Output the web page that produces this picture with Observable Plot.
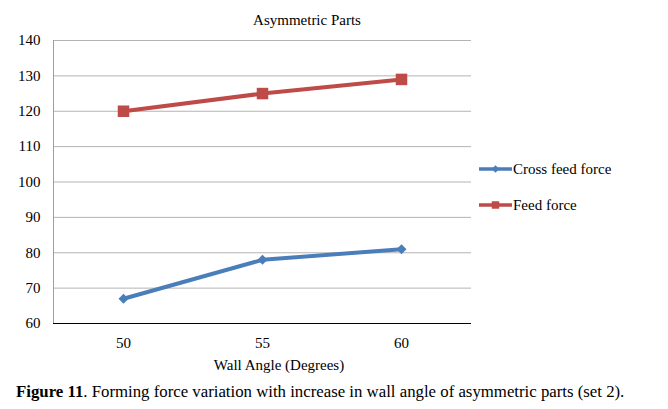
<!DOCTYPE html>
<html>
<head>
<meta charset="utf-8">
<script src="https://cdn.jsdelivr.net/npm/d3@7"></script>
<script src="https://cdn.jsdelivr.net/npm/@observablehq/plot@0.6"></script>
<style>
  body { margin: 0; background: #fff; }
  #wrap { position: relative; width: 668px; height: 409px; font-family: "Liberation Serif", "Times New Roman", serif; color: #000; }
  #chart { position: absolute; left: 0; top: 0; }
  #chart svg, #chart svg text { font-family: "Liberation Serif", "Times New Roman", serif !important; }
  .abs { position: absolute; white-space: nowrap; line-height: 18px; }
  #title { left: 307px; top: 11px; transform: translateX(-50%); font-size: 15px; }
  #xlabel { left: 279px; top: 356px; transform: translateX(-50%); font-size: 15px; }
  #caption { left: 16px; top: 383px; font-size: 16.8px; }
  .leg { left: 479px; font-size: 15px; display: flex; align-items: center; }
  .leg svg { display: block; margin-right: 1px; }
</style>
</head>
<body>
<div id="wrap">
  <div id="chart"></div>
  <div id="title" class="abs">Asymmetric Parts</div>
  <div id="xlabel" class="abs">Wall Angle (Degrees)</div>
  <div id="legend"></div>
  <div id="caption" class="abs"><b>Figure 11</b>. Forming force variation with increase in wall angle of asymmetric parts (set 2).</div>
</div>
<script>
const angles = [50, 55, 60];
const crossFeed = [67, 78, 81];
const feed = [120, 125, 129];
const yTicks = [60, 70, 80, 90, 100, 110, 120, 130, 140];
const seriesNames = ["Cross feed force", "Feed force"];
const seriesColors = ["#4a7ebb", "#be4b48"];
const seriesSymbols = ["diamond2", "square"];

const seriesValues = [crossFeed, feed];
const rows = seriesNames.map((name, s) => angles.map((a, i) => ({angle: a, value: seriesValues[s][i], series: name}))).flat();

const marks = [
  Plot.gridY(yTicks, {stroke: "#b4b4b4", strokeOpacity: 1}),
  Plot.axisY({ticks: yTicks, tickSize: 0, tickPadding: 13, fontSize: 15}),
  Plot.axisX({tickSize: 0, tickPadding: 14, fontSize: 15}),
  Plot.frame({anchor: "left", stroke: "#a0a0a0"}),
  Plot.ruleY([60], {stroke: "#000"})
];
seriesNames.forEach((name, s) => {
  const d = rows.filter(r => r.series === name);
  marks.push(Plot.line(d, {x: "angle", y: "value", stroke: seriesColors[s], strokeWidth: 4}));
  marks.push(Plot.dot(d, {x: "angle", y: "value", symbol: seriesSymbols[s], fill: seriesColors[s], stroke: "none", r: s === 0 ? 4.5 : 6.5}));
});

const chart = Plot.plot({
  width: 668,
  height: 378,
  marginLeft: 53,
  marginRight: 197,
  marginTop: 40,
  marginBottom: 55,
  style: {fontFamily: "Liberation Serif", fontSize: "15px", color: "#000", background: "transparent"},
  x: {type: "point", domain: angles, padding: 0.5, label: null},
  y: {domain: [60, 140], label: null},
  marks
});
document.getElementById("chart").appendChild(chart);

// Legend
const legend = document.getElementById("legend");
const legTops = [169, 205];
seriesNames.forEach((name, s) => {
  const div = document.createElement("div");
  div.className = "abs leg";
  div.style.top = (legTops[s] - 9) + "px";
  div.style.height = "18px";
  const sw = d3.create("svg").attr("width", 33).attr("height", 18);
  sw.append("line").attr("x1", 0).attr("x2", 33).attr("y1", 9).attr("y2", 9)
    .attr("stroke", seriesColors[s]).attr("stroke-width", 3.5);
  const sym = s === 0 ? d3.symbolDiamond2 : d3.symbolSquare;
  sw.append("path").attr("transform", "translate(16.5,9)")
    .attr("d", d3.symbol(sym, s === 0 ? 36 : 56)())
    .attr("fill", seriesColors[s]);
  div.appendChild(sw.node());
  const t = document.createElement("span");
  t.textContent = name;
  div.appendChild(t);
  legend.appendChild(div);
});
</script>
</body>
</html>
